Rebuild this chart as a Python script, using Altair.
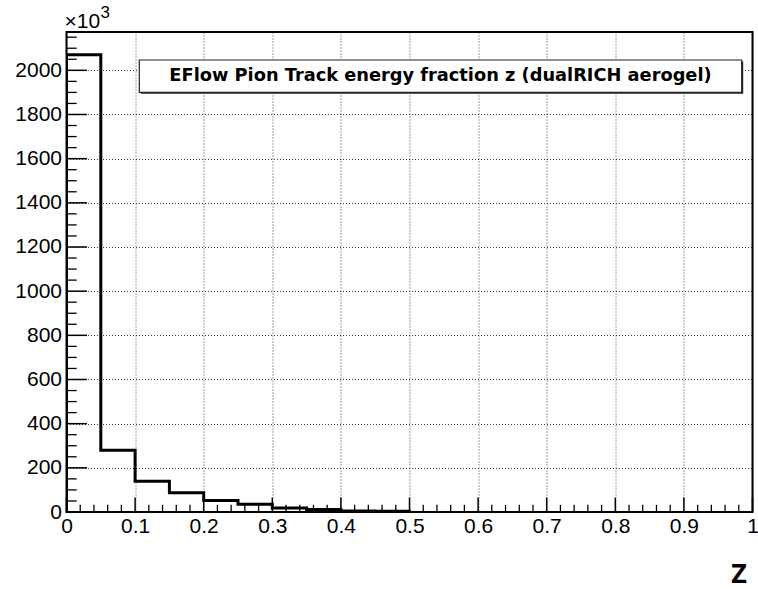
import altair as alt
import pandas as pd

# Histogram of the pion track energy fraction z, entries in units of 10^3
bin_lo = [0.00, 0.05, 0.10, 0.15, 0.20, 0.25, 0.30, 0.35, 0.40, 0.45]
bin_width = 0.05
counts = [2070, 280, 139, 87, 52, 35, 18, 11, 5, 3]

title_text = "EFlow Pion Track energy fraction z (dualRICH aerogel)"
x_title = "Z"

# axis divisions: labelled major ticks plus unlabelled minor ticks
x_major = [round(i * 0.1, 1) for i in range(11)]
x_minor = [round(i * 0.02, 2) for i in range(51) if i % 5]
y_major = list(range(0, 2001, 200))
y_max = 1.05 * max(counts)
y_minor = [v for v in range(50, int(y_max), 50) if v % 200]

W, H = 686, 480
FONT = "Liberation Sans"

# outline points of the step histogram (rise at 0, drop after the last bin)
step_x = [bin_lo[0]] + bin_lo + [bin_lo[-1] + bin_width]
step_y = [0] + counts + [0]
step_df = pd.DataFrame({"z": step_x, "n": step_y, "i": range(len(step_x))})

xscale = alt.Scale(domain=[0, 1], nice=False, zero=False)
yscale = alt.Scale(domain=[0, y_max], nice=False)

x_axis = alt.Axis(
    values=x_major,
    format="~g",
    title=x_title,
    titleFont="Noto Sans",
    titleFontSize=27,
    titleFontWeight="bold",
    titleColor="black",
    titleAlign="right",
    titleBaseline="alphabetic",
    titleX=W - 6,
    titleY=70,
    labelPadding=3,
    labelBaseline="top",
)
y_axis = alt.Axis(values=y_major, format="d", title=None, labelPadding=5)

X = alt.X("z:Q", scale=xscale, axis=x_axis)
Y = alt.Y("n:Q", scale=yscale, axis=y_axis)

hist = alt.Chart(step_df).mark_line(
    interpolate="step-after", color="black", strokeWidth=3, clip=True
).encode(x=X, y=Y, order="i:O")


# inward-pointing ticks along the bottom and left edges
def x_ticks(values, length, width):
    return alt.Chart(pd.DataFrame({"z": values})).mark_rule(
        color="black", strokeWidth=width
    ).encode(x=X, y=alt.value(H), y2=alt.value(H - length))


def y_ticks(values, length, width):
    return alt.Chart(pd.DataFrame({"n": values})).mark_rule(
        color="black", strokeWidth=width
    ).encode(y=Y, x=alt.value(0), x2=alt.value(length))


xt_major = x_ticks(x_major, 14.4, 1.5)
xt_minor = x_ticks(x_minor, 7.2, 1.3)
yt_major = y_ticks(y_major, 20.5, 1.5)
yt_minor = y_ticks(y_minor, 10.2, 1.3)

# title pave with a drop shadow
title_df = pd.DataFrame({"t": [title_text]})
pave_shadow = alt.Chart(title_df).mark_rect(color="#222").encode(
    x=alt.value(74.3), x2=alt.value(676.7), y=alt.value(29.5), y2=alt.value(61.8)
)
pave = alt.Chart(title_df).mark_rect(
    fill="white", stroke="#222", strokeWidth=1.2
).encode(
    x=alt.value(72.8), x2=alt.value(675.2), y=alt.value(28), y2=alt.value(60.3)
)
pave_text = alt.Chart(title_df).mark_text(
    font="DejaVu Sans", fontSize=17.8, fontWeight="bold", color="black",
    align="center", baseline="alphabetic",
).encode(text="t:N", x=alt.value(374), y=alt.value(49))

# exponent of the y axis
exp_df = pd.DataFrame({"base": ["\u00d710"], "power": ["3"]})
exp_base = alt.Chart(exp_df).mark_text(
    font=FONT, fontSize=21, color="black", align="left", baseline="alphabetic"
).encode(text="base:N", x=alt.value(-2), y=alt.value(-4))
exp_power = alt.Chart(exp_df).mark_text(
    font=FONT, fontSize=17, color="black", align="left", baseline="alphabetic"
).encode(text="power:N", x=alt.value(34), y=alt.value(-14))

chart = alt.layer(
    hist, xt_minor, xt_major, yt_minor, yt_major,
    pave_shadow, pave, pave_text, exp_base, exp_power,
).properties(
    width=W,
    height=H,
    autosize=alt.AutoSizeParams(type="none"),
    padding={"left": 66.5, "top": 32, "right": 5.5, "bottom": 77},
    background="white",
).configure_view(
    stroke="black", strokeWidth=2
).configure_axis(
    domain=False,
    ticks=False,
    grid=True,
    gridColor="black",
    gridOpacity=0.75,
    gridWidth=1,
    gridDash=[1, 2],
    labelFont=FONT,
    labelFontSize=21,
    labelColor="black",
    labelFlush=False,
    labelOverlap=False,
    labelBound=False,
)

chart.save("out.html", embed_options={"renderer": "svg", "actions": False})
